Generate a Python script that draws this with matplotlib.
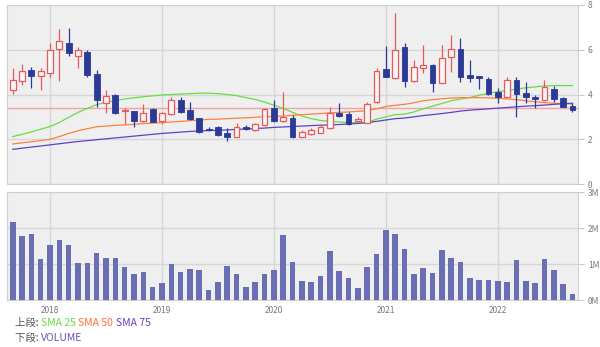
import numpy as np
import matplotlib.pyplot as plt

# monthly candles, Sep 2017 .. Sep 2022
opens = [4.18, 4.62, 5.10, 4.83, 4.98, 6.03, 6.29, 5.73, 5.92, 4.92,
         3.64, 3.98, 3.26, 3.27, 2.83, 3.34, 2.83, 3.13, 3.76, 3.31,
         2.94, 2.47, 2.53, 2.27, 2.12, 2.56, 2.42, 2.64, 3.39, 2.83,
         2.94, 2.12, 2.22, 2.30, 2.49, 3.16, 3.13, 2.83, 2.74, 3.68,
         5.13, 4.73, 6.11, 4.62, 5.18, 5.31, 4.53, 5.67, 6.03, 4.85,
         4.83, 4.70, 4.09, 3.91, 4.65, 4.06, 3.91, 3.76, 4.24, 3.83, 3.49]
closes = [4.65, 5.06, 4.83, 5.03, 6.00, 6.37, 5.85, 5.97, 4.88, 3.76,
          3.94, 3.16, 3.31, 2.83, 3.16, 2.79, 3.16, 3.76, 3.24, 2.89,
          2.34, 2.40, 2.19, 2.09, 2.57, 2.45, 2.68, 3.34, 2.83, 3.00,
          2.12, 2.34, 2.42, 2.53, 3.16, 3.04, 2.68, 2.90, 3.58, 5.06,
          4.80, 5.97, 4.62, 5.25, 5.31, 4.53, 5.65, 6.04, 4.77, 4.73,
          4.74, 4.03, 3.88, 4.65, 4.01, 3.91, 3.79, 4.33, 3.79, 3.46, 3.31]
highs = [5.18, 5.37, 5.25, 5.18, 6.29, 6.92, 6.96, 6.14, 5.97, 5.10,
         4.18, 4.01, 3.39, 3.27, 3.58, 3.40, 3.24, 3.91, 3.88, 3.68,
         2.96, 2.56, 2.60, 2.49, 2.74, 2.64, 2.74, 3.39, 3.76, 4.13,
         3.09, 2.40, 2.49, 2.64, 3.43, 3.64, 3.24, 2.98, 3.68, 5.18,
         6.17, 7.64, 6.32, 5.55, 6.22, 5.35, 6.22, 6.67, 6.52, 5.55,
         4.83, 4.80, 4.28, 4.80, 4.77, 4.58, 3.98, 4.65, 4.38, 3.88, 3.61]
lows = [4.03, 4.43, 4.28, 4.18, 4.80, 4.62, 5.73, 5.18, 4.77, 3.46,
        3.16, 3.13, 2.70, 2.57, 2.79, 2.75, 2.68, 3.09, 3.16, 2.86,
        2.30, 2.38, 2.15, 1.90, 2.09, 2.42, 2.39, 2.60, 2.79, 2.79,
        2.04, 2.09, 2.19, 2.28, 2.46, 3.01, 2.64, 2.80, 2.71, 3.61,
        4.77, 4.70, 4.35, 4.58, 4.95, 4.09, 4.50, 5.01, 4.58, 4.58,
        4.24, 3.98, 3.64, 3.88, 3.01, 3.61, 3.39, 3.71, 3.68, 3.43, 3.24]

sma25 = [2.12, 2.22, 2.33, 2.45, 2.57, 2.75, 2.98, 3.20, 3.38, 3.55,
         3.65, 3.73, 3.80, 3.85, 3.90, 3.94, 3.98, 4.00, 4.02, 4.04,
         4.06, 4.06, 4.04, 4.00, 3.95, 3.86, 3.78, 3.66, 3.52, 3.38,
         3.20, 3.04, 2.92, 2.84, 2.80, 2.77, 2.75, 2.74, 2.74, 2.90,
         3.00, 3.10, 3.12, 3.22, 3.36, 3.48, 3.60, 3.72, 3.80, 3.86,
         3.97, 4.05, 4.12, 4.18, 4.24, 4.30, 4.34, 4.38, 4.40, 4.40, 4.40]
sma50 = [1.79, 1.84, 1.89, 1.94, 2.00, 2.12, 2.26, 2.38, 2.47, 2.56,
         2.59, 2.62, 2.64, 2.67, 2.70, 2.72, 2.74, 2.77, 2.80, 2.83,
         2.86, 2.89, 2.90, 2.92, 2.94, 2.96, 2.98, 3.01, 3.02, 3.04,
         3.07, 3.10, 3.12, 3.15, 3.18, 3.20, 3.22, 3.25, 3.27, 3.36,
         3.46, 3.52, 3.56, 3.63, 3.72, 3.77, 3.81, 3.84, 3.86, 3.86,
         3.86, 3.85, 3.83, 3.80, 3.77, 3.72, 3.68, 3.64, 3.61, 3.59, 3.58]
sma75 = [1.55, 1.60, 1.65, 1.70, 1.75, 1.80, 1.85, 1.90, 1.94, 1.98,
         2.02, 2.06, 2.10, 2.14, 2.18, 2.22, 2.26, 2.29, 2.32, 2.35,
         2.37, 2.39, 2.40, 2.42, 2.44, 2.46, 2.48, 2.50, 2.53, 2.55,
         2.57, 2.59, 2.61, 2.63, 2.64, 2.66, 2.68, 2.71, 2.74, 2.80,
         2.86, 2.92, 2.95, 3.00, 3.06, 3.10, 3.15, 3.20, 3.26, 3.30,
         3.33, 3.36, 3.39, 3.42, 3.45, 3.48, 3.50, 3.53, 3.56, 3.59, 3.61]

volume = [2.16, 1.79, 1.83, 1.13, 1.53, 1.67, 1.53, 1.04, 1.02, 1.32,
          1.17, 1.17, 0.93, 0.71, 0.78, 0.37, 0.47, 1.00, 0.78, 0.87,
          0.83, 0.29, 0.51, 0.94, 0.71, 0.35, 0.51, 0.73, 0.83, 1.82,
          1.05, 0.52, 0.49, 0.66, 1.37, 0.81, 0.60, 0.34, 0.93, 1.28,
          1.94, 1.83, 1.41, 0.71, 0.90, 0.74, 1.39, 1.16, 1.05, 0.60,
          0.55, 0.55, 0.54, 0.50, 1.11, 0.53, 0.47, 1.14, 0.83, 0.44, 0.17]

last_price = 3.39
years = ['2018', '2019', '2020', '2021', '2022']
year_pos = [4, 16, 28, 40, 52]

up_col = '#e85a5a'
down_col = '#2b3a96'
vol_col = '#6a6fb3'
bg = '#efefef'
grid_col = '#d6d6d6'
lab_col = '#777777'

plt.rcParams['font.family'] = ['Noto Sans CJK JP', 'DejaVu Sans']

fig = plt.figure(figsize=(6, 3.47), dpi=100)
ax = fig.add_axes([0.0117, 0.4697, 0.9517, 0.5159])
axv = fig.add_axes([0.0117, 0.1354, 0.9517, 0.3112])

x = np.arange(len(opens))
o = np.array(opens)
c = np.array(closes)
up = c >= o

for a in (ax, axv):
    a.set_facecolor(bg)
    a.set_xlim(-0.61, 60.6)
    for s in a.spines.values():
        s.set_color('#cfcfcf')
        s.set_linewidth(0.8)
    a.yaxis.tick_right()
    a.tick_params(axis='y', length=4, width=0.6, color='#bbbbbb',
                  labelsize=6, labelcolor=lab_col, pad=3)
    a.set_xticks(year_pos)
    a.grid(True, color=grid_col, linewidth=1)
    a.set_axisbelow(True)

# upper: candles + SMAs
ax.set_ylim(0, 8)
ax.set_yticks([0, 2, 4, 6, 8])
ax.tick_params(axis='x', length=0, labelbottom=False)

ax.axhline(last_price, color='#f4a3a3', linewidth=1, zorder=1)
ax.plot(x, sma25, color='#66dd44', linewidth=0.9, zorder=2)
ax.plot(x, sma50, color='#ff8040', linewidth=0.9, zorder=2)
ax.plot(x, sma75, color='#6040c8', linewidth=0.9, zorder=2)

ax.vlines(x[up], np.array(lows)[up], np.array(highs)[up], color=up_col, linewidth=0.9, zorder=3)
ax.vlines(x[~up], np.array(lows)[~up], np.array(highs)[~up], color=down_col, linewidth=0.9, zorder=3)
body_lo = np.minimum(o, c)
body_h = np.maximum(np.abs(c - o), 0.04)
ax.bar(x[up], body_h[up], bottom=body_lo[up], width=0.62, facecolor='#f6f6f6',
       edgecolor=up_col, linewidth=0.9, zorder=4)
ax.bar(x[~up], body_h[~up], bottom=body_lo[~up], width=0.62, facecolor=down_col,
       edgecolor=down_col, linewidth=0.6, zorder=4)

# lower: volume
axv.set_ylim(0, 3)
axv.set_yticks([0, 1, 2, 3])
axv.set_yticklabels(['0M', '1M', '2M', '3M'])
axv.bar(x, volume, width=0.6, color=vol_col, zorder=3)
axv.set_xticklabels(years)
axv.tick_params(axis='x', length=0, labelsize=6, labelcolor=lab_col, pad=4)

# legend text, laid out piece by piece
fs = 7.5


def put_line(y, parts):
    xpos = 0.025
    for s, col in parts:
        t = fig.text(xpos, y, s, fontsize=fs, color=col, va='center')
        fig.canvas.draw()
        xpos = t.get_window_extent().x1 / fig.bbox.width


put_line(0.069, [('上段: ', '#555555'), ('SMA 25 ', '#66dd44'),
                 ('SMA 50 ', '#ff7035'), ('SMA 75', '#6a3fc8')])
put_line(0.026, [('下段: ', '#555555'), ('VOLUME', '#6a55b5')])

fig.savefig('out.png', dpi=100, facecolor='white')
